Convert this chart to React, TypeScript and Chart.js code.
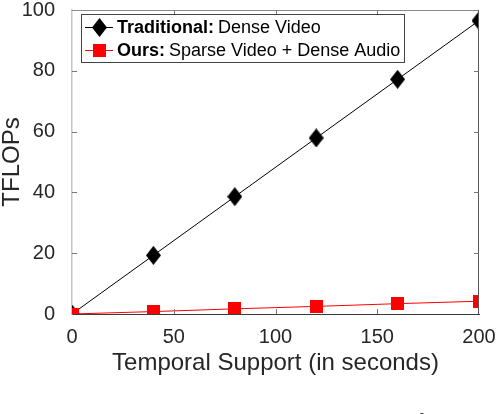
import React, { useEffect, useRef } from "react";
import { Chart, registerables } from "chart.js";

Chart.register(...registerables);

// ---- data ----
const seconds = [0, 40, 80, 120, 160, 200];
const traditionalTflops = [0, 19.3, 38.6, 57.9, 77.2, 96.5];
const oursTflops = [0, 0.8, 1.7, 2.5, 3.4, 4.2];
const xTickValues = [0, 50, 100, 150, 200];
const yTickValues = [0, 20, 40, 60, 80, 100];
const seriesBold = ["Traditional:", "Ours:"];
const seriesRest = ["Dense Video", "Sparse Video + Dense Audio"];
const seriesColors = ["#000000", "#ff0000"];
const xTitle = "Temporal Support (in seconds)";
const yTitle = "TFLOPs";
const captionText = "Figure 3: We compare the computational cost of";

const FONT = "'Liberation Sans', Arial, Helvetica, sans-serif";

function makeDiamond(w: number, h: number, color: string) {
  const c = document.createElement("canvas");
  c.width = w;
  c.height = h;
  const g = c.getContext("2d")!;
  g.fillStyle = color;
  g.beginPath();
  g.moveTo(w / 2, 0);
  g.lineTo(w, h / 2);
  g.lineTo(w / 2, h);
  g.lineTo(0, h / 2);
  g.closePath();
  g.fill();
  return c;
}

function makeSquare(s: number, color: string) {
  const c = document.createElement("canvas");
  c.width = s;
  c.height = s;
  const g = c.getContext("2d")!;
  g.fillStyle = color;
  g.fillRect(0, 0, s, s);
  return c;
}

export default function App() {
  const ref = useRef<HTMLCanvasElement | null>(null);

  useEffect(() => {
    const canvas = ref.current;
    if (!canvas) return;
    const diamond = makeDiamond(15, 19, seriesColors[0]);
    const square = makeSquare(13, seriesColors[1]);
    const markers = [diamond, square];

    const decor = {
      id: "decor",
      afterDraw(chart: any) {
        const ctx = chart.ctx;
        const { left, right, top, bottom } = chart.chartArea;
        const xs = chart.scales.x;
        const ys = chart.scales.y;
        ctx.save();
        // top & right box lines
        ctx.lineWidth = 1;
        ctx.strokeStyle = "#8a8a8a";
        ctx.beginPath();
        ctx.moveTo(left, Math.round(top) + 0.5);
        ctx.lineTo(right, Math.round(top) + 0.5);
        ctx.stroke();
        ctx.strokeStyle = "#555555";
        ctx.beginPath();
        ctx.moveTo(Math.round(right) - 0.5, top);
        ctx.lineTo(Math.round(right) - 0.5, bottom);
        ctx.stroke();
        // inward ticks
        ctx.strokeStyle = "#777777";
        const tl = 5;
        xTickValues.slice(1, -1).forEach((v) => {
          const px = Math.round(xs.getPixelForValue(v)) + 0.5;
          ctx.beginPath();
          ctx.moveTo(px, bottom);
          ctx.lineTo(px, bottom - tl);
          ctx.moveTo(px, top);
          ctx.lineTo(px, top + tl);
          ctx.stroke();
        });
        yTickValues.slice(1, -1).forEach((v) => {
          const py = Math.round(ys.getPixelForValue(v)) + 0.5;
          ctx.beginPath();
          ctx.moveTo(left, py);
          ctx.lineTo(left + tl, py);
          ctx.moveTo(right, py);
          ctx.lineTo(right - tl, py);
          ctx.stroke();
        });

        // legend
        const bx = 81.5, by = 14.5, bw = 323, bh = 48;
        ctx.fillStyle = "#ffffff";
        ctx.fillRect(bx, by, bw, bh);
        ctx.strokeStyle = "#444444";
        ctx.lineWidth = 1;
        ctx.strokeRect(bx, by, bw, bh);
        const rowsY = [27, 50];
        rowsY.forEach((ry, i) => {
          ctx.strokeStyle = seriesColors[i];
          ctx.lineWidth = 1;
          ctx.beginPath();
          ctx.moveTo(85, ry + 0.5);
          ctx.lineTo(113, ry + 0.5);
          ctx.stroke();
          const m = markers[i];
          ctx.drawImage(m, Math.round(99 - m.width / 2), Math.round(ry - m.height / 2));
          ctx.fillStyle = "#000000";
          ctx.textBaseline = "middle";
          ctx.textAlign = "left";
          ctx.font = `bold 18px ${FONT}`;
          ctx.fillText(seriesBold[i], 117, ry + 1);
          const w = ctx.measureText(seriesBold[i]).width;
          ctx.font = `18px ${FONT}`;
          ctx.fillText(seriesRest[i], 117 + w + 4, ry + 1);
        });
        ctx.restore();
      },
    };

    const chart = new Chart(canvas, {
      type: "line",
      data: {
        datasets: [
          {
            label: seriesBold[0] + " " + seriesRest[0],
            data: seconds.map((s, i) => ({ x: s, y: traditionalTflops[i] })),
            borderColor: seriesColors[0],
            backgroundColor: seriesColors[0],
            borderWidth: 1,
            pointStyle: diamond as any,
            pointRadius: 8,
            order: 1,
          },
          {
            label: seriesBold[1] + " " + seriesRest[1],
            data: seconds.map((s, i) => ({ x: s, y: oursTflops[i] })),
            borderColor: seriesColors[1],
            backgroundColor: seriesColors[1],
            borderWidth: 1,
            pointStyle: square as any,
            pointRadius: 7,
            order: 0,
          },
        ],
      },
      options: {
        animation: false,
        responsive: false,
        devicePixelRatio: 1,
        layout: { padding: { left: 0, right: 17, top: 10, bottom: 0 } },
        plugins: { legend: { display: false }, tooltip: { enabled: false } },
        scales: {
          x: {
            type: "linear",
            min: 0,
            max: 200,
            afterBuildTicks: (s: any) => {
              s.ticks = xTickValues.map((v) => ({ value: v }));
            },
            afterFit: (s: any) => {
              s.height = 100;
              s.paddingLeft = 0;
              s.paddingRight = 0;
            },
            grid: { display: false },
            border: { display: true, color: "#3c3c3c", width: 1 },
            ticks: {
              font: { size: 20, family: FONT },
              color: "#262626",
              padding: 3,
              maxRotation: 0,
              autoSkip: false,
            },
            title: {
              display: true,
              text: xTitle,
              color: "#262626",
              font: { size: 24, family: FONT },
              padding: { top: 0, bottom: 36 },
            },
          },
          y: {
            type: "linear",
            min: 0,
            max: 100,
            afterBuildTicks: (s: any) => {
              s.ticks = yTickValues.map((v) => ({ value: v }));
            },
            afterFit: (s: any) => {
              s.width = 72;
              s.paddingTop = 0;
              s.paddingBottom = 0;
            },
            grid: { display: false },
            border: { display: true, color: "#c4c4c4", width: 1.5 },
            ticks: {
              font: { size: 20, family: FONT },
              color: "#262626",
              padding: 9,
              autoSkip: false,
            },
            title: {
              display: true,
              text: yTitle,
              color: "#262626",
              font: { size: 24, family: FONT, lineHeight: 1 },
              padding: { top: 0, bottom: 0 },
            },
          },
        },
      },
      plugins: [decor],
    } as any);

    return () => chart.destroy();
  }, []);

  return (
    <div
      style={{
        position: "absolute",
        left: 0,
        top: 0,
        width: 496,
        height: 414,
        overflow: "hidden",
        background: "#ffffff",
      }}
    >
      <canvas ref={ref} width={496} height={414} style={{ position: "absolute", left: 0, top: 0 }} />
      <div
        style={{
          position: "absolute",
          left: 0,
          top: 410,
          whiteSpace: "nowrap",
          fontFamily: "'Liberation Serif', 'Times New Roman', serif",
          fontSize: 22,
          lineHeight: "22px",
          color: "#333333",
        }}
      >
        {captionText}
      </div>
    </div>
  );
}
